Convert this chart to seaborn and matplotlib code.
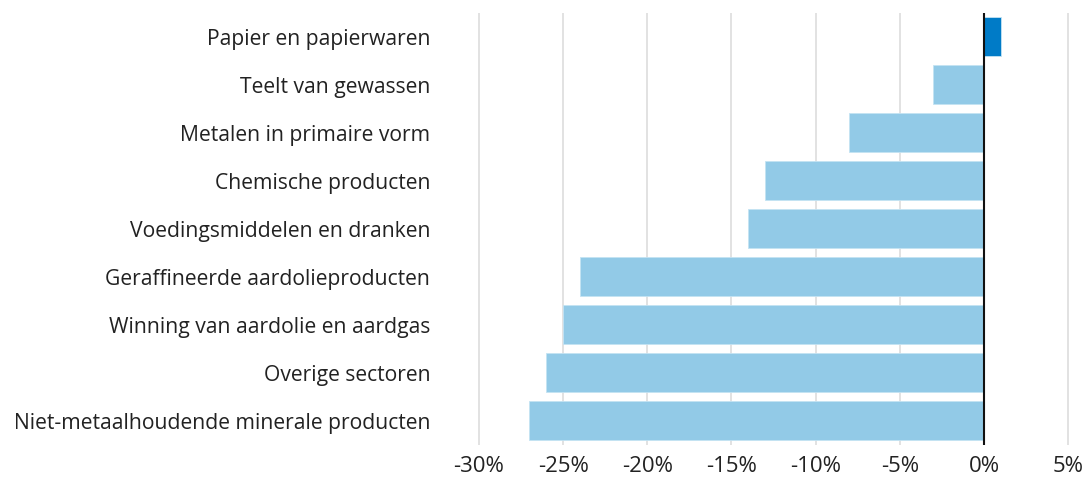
import matplotlib.pyplot as plt
import seaborn as sns

sectors = [
    "Papier en papierwaren",
    "Teelt van gewassen",
    "Metalen in primaire vorm",
    "Chemische producten",
    "Voedingsmiddelen en dranken",
    "Geraffineerde aardolieproducten",
    "Winning van aardolie en aardgas",
    "Overige sectoren",
    "Niet-metaalhoudende minerale producten",
]
change_pct = [1, -3, -8, -13, -14, -24, -25, -26, -27]
x_ticks = [-30, -25, -20, -15, -10, -5, 0, 5]

LIGHT_BLUE = "#92cae7"
DARK_BLUE = "#007bc7"

sns.set_theme(style="white")
plt.rcParams["font.family"] = ["Open Sans", "DejaVu Sans"]

fig = plt.figure(figsize=(10.88, 4.87), dpi=100)
ax = fig.add_axes([0.4325, 0.087, 0.557, 0.887])

palette = [DARK_BLUE if v > 0 else LIGHT_BLUE for v in change_pct]
sns.barplot(
    x=change_pct, y=sectors, hue=sectors, palette=palette, legend=False,
    orient="h", width=0.8, saturation=1, edgecolor="#c4e3f3", linewidth=0.6,
    ax=ax, zorder=2,
)

ax.set_xlim(-30.5, 5.5)
ax.set_ylim(8.5, -0.5)
ax.set_xticks(x_ticks)
ax.set_xticklabels([f"{t}%" for t in x_ticks])
ax.grid(axis="x", color="#dddddd", linewidth=1.2, zorder=0)
ax.grid(axis="y", visible=False)
ax.axvline(0, color="#111111", linewidth=1.5, zorder=3)

for s in ax.spines.values():
    s.set_visible(False)
ax.tick_params(axis="both", length=0, labelcolor="#222222")
ax.tick_params(axis="y", labelsize=15.25, pad=29)
ax.tick_params(axis="x", labelsize=16, pad=8)
ax.set_xlabel("")
ax.set_ylabel("")

fig.savefig("out.png", dpi=100)
